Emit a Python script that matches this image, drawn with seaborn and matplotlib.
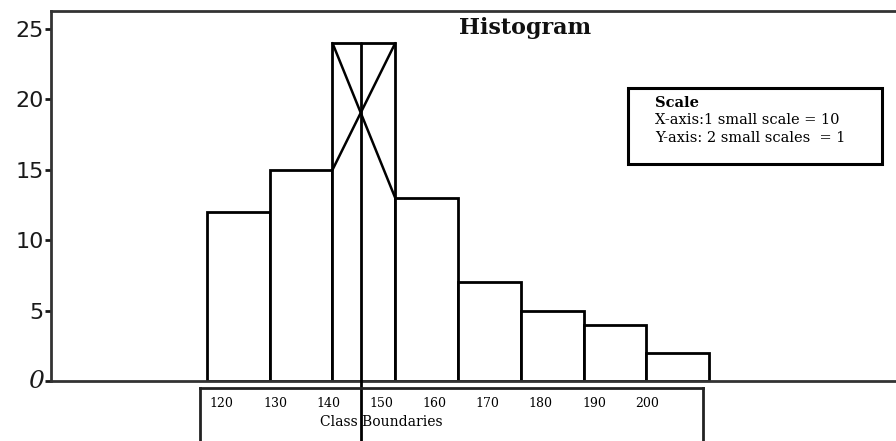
import numpy as np
import seaborn as sns
from matplotlib import pyplot as plt
from matplotlib.patches import Rectangle

# class boundaries and frequencies
boundaries = [120, 130, 140, 150, 160, 170, 180, 190, 200]
frequencies = [12, 15, 24, 13, 7, 5, 4, 2]
y_ticks = [0, 5, 10, 15, 20, 25]
scale_lines = ["Scale", "X-axis:1 small scale = 10", "Y-axis: 2 small scales  = 1"]


def modal_value(edges, freq):
    i = int(np.argmax(freq))
    f0, f1, f2 = freq[i - 1], freq[i], freq[i + 1]
    h = edges[i + 1] - edges[i]
    return i, edges[i] + h * (f1 - f0) / ((f1 - f0) + (f1 - f2))


def main():
    sns.set_theme(style="white")
    plt.rcParams['font.family'] = ['DejaVu Serif', 'DejaVu Sans']

    fig = plt.figure(figsize=(8.96, 4.41), dpi=100)
    ax = fig.add_axes([51 / 896, 60 / 441, 845 / 896, 370 / 441])

    mids = [(a + b) / 2 for a, b in zip(boundaries[:-1], boundaries[1:])]
    sns.histplot(x=mids, weights=frequencies, bins=boundaries, color='white',
                 edgecolor='black', linewidth=2, alpha=1, ax=ax)

    # mode construction: crossing lines and the vertical line through them
    i, mode = modal_value(boundaries, frequencies)
    lo, hi = boundaries[i], boundaries[i + 1]
    ax.plot([lo, hi], [frequencies[i - 1], frequencies[i]], color='black', lw=1.8)
    ax.plot([lo, hi], [frequencies[i], frequencies[i + 1]], color='black', lw=1.8)
    ax.plot([mode, mode], [frequencies[i], -6], color='black', lw=2,
            clip_on=False, zorder=10)

    ax.set_xlim(95.14, 229.8)
    ax.set_ylim(0, 26.28)
    ax.set_xticks([])
    ax.set_yticks(y_ticks)
    ax.set_xlabel('')
    ax.set_ylabel('')
    ax.tick_params(axis='y', left=True, length=4, width=2, pad=1,
                   labelsize=16, colors='#1a1a1a')
    labels = ax.get_yticklabels()
    for lab in labels:
        lab.set_family('DejaVu Sans')
    labels[0].set_fontstyle('italic')
    labels[0].set_family('DejaVu Serif')
    labels[0].set_fontsize(18)
    labels[0].set_va('center')
    for side in ['left', 'bottom', 'top']:
        ax.spines[side].set_linewidth(2)
        ax.spines[side].set_color('#333333')
    ax.spines['right'].set_visible(False)

    fig.text(0.586, 0.937, "Histogram", ha='center', va='center',
             fontsize=16, fontweight='bold', color='#111111')

    # scale note box
    fig.patches.append(Rectangle((628 / 896, 277 / 441), 254 / 896, 76 / 441,
                                 transform=fig.transFigure, fill=False,
                                 edgecolor='black', lw=2.2))
    for k, line in enumerate(scale_lines):
        fig.text(655 / 896, 0.766 - k * 0.039, line, ha='left', va='center',
                 fontsize=10.5, color='black',
                 fontweight='bold' if k == 0 else 'normal')

    # class boundaries box under the axis
    box = fig.add_axes([200 / 896, -0.05, 503 / 896, 0.1702])
    box.patch.set_alpha(0)
    box.set_xlim(115.9, 210.5)
    box.set_ylim(0, 1)
    box.set_xticks([])
    box.set_yticks([])
    for side in ['left', 'top', 'right']:
        box.spines[side].set_linewidth(2)
        box.spines[side].set_color('#222222')
    box.spines['bottom'].set_visible(False)
    for b in boundaries:
        box.text(b, 0.80, str(b), ha='center', va='center', fontsize=9,
                 color='black')
    box.text(150, 0.55, "Class Boundaries", ha='center', va='center',
             fontsize=10, color='black')

    fig.savefig('out.png', dpi=100)


if __name__ == '__main__':
    main()
